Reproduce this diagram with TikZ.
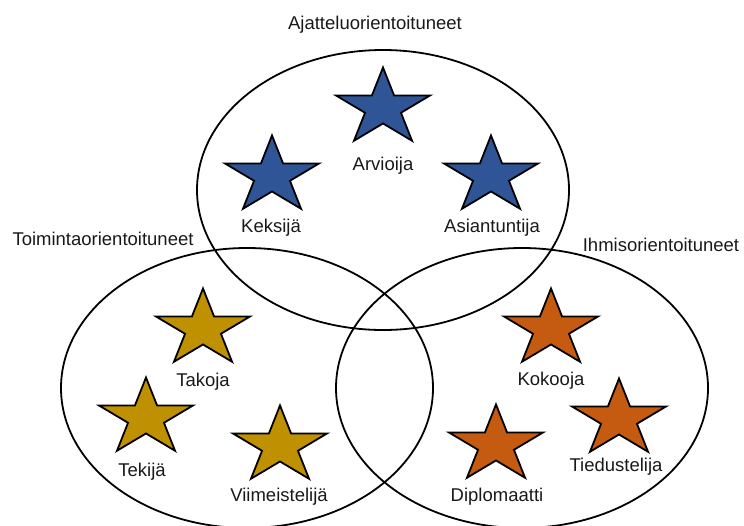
\documentclass[tikz,border=0pt]{standalone}
\usepackage{fontspec}
\setmainfont{Liberation Sans}
\usetikzlibrary{shapes.geometric}
\definecolor{starblue}{HTML}{2F5597}
\definecolor{stargold}{HTML}{BF9000}
\definecolor{starorange}{HTML}{C55A11}

\begin{document}
\begin{tikzpicture}[x=1pt, y=-1pt, font=\fontsize{18.5}{22}\selectfont,
						bigstar/.style={star, star points=5, star point ratio=2.618, minimum size=81, inner sep=0pt, draw=black, line width=1.8pt, xscale=1.22, transform shape},
						starb/.style={bigstar, fill=starblue},
						starg/.style={bigstar, fill=stargold},
						staro/.style={bigstar, fill=starorange},
						lbl/.style={anchor=base, inner sep=0pt, text=black!90},
						ring/.style={line width=1.8pt},
					]
					\clip (0,0) rectangle (744,525);
					\draw[ring] (383,190) ellipse [x radius=186, y radius=140];
					\draw[ring] (247,388) ellipse [x radius=186, y radius=140];
					\draw[ring] (522,388) ellipse [x radius=186, y radius=140];
					\node[lbl] (ajattelu) at (375,29) {Ajatteluorientoituneet};
					\node[lbl] (toiminta) at (103,245) {Toimintaorientoituneet};
					\node[lbl] (ihmis) at (661,251) {Ihmisorientoituneet};
					% ajattelijat
					\node[starb] (arvioija) at (383,108) {}; \node[lbl] at (383,170) {Arvioija};
					\node[starb] (keksija) at (272,176) {}; \node[lbl] at (271,232) {Keksijä};
					\node[starb] (asiantuntija) at (491,176) {}; \node[lbl] at (492,232) {Asiantuntija};
					% toimijat
					\node[starg] (takoja) at (203,329) {}; \node[lbl] at (203,386) {Takoja};
					\node[starg] (tekija) at (146,418) {}; \node[lbl] at (142,476) {Tekijä};
					\node[starg] (viimeistelija) at (280,446) {}; \node[lbl] at (279,501) {Viimeistelijä};
					% ihmiset
					\node[staro] (kokooja) at (551,329) {}; \node[lbl] at (551,385) {Kokooja};
					\node[staro] (diplomaatti) at (496,445) {}; \node[lbl] at (497,501) {Diplomaatti};
					\node[staro] (tiedustelija) at (619,419) {}; \node[lbl] at (616,471) {Tiedustelija};
	\end{tikzpicture}
\end{document}
